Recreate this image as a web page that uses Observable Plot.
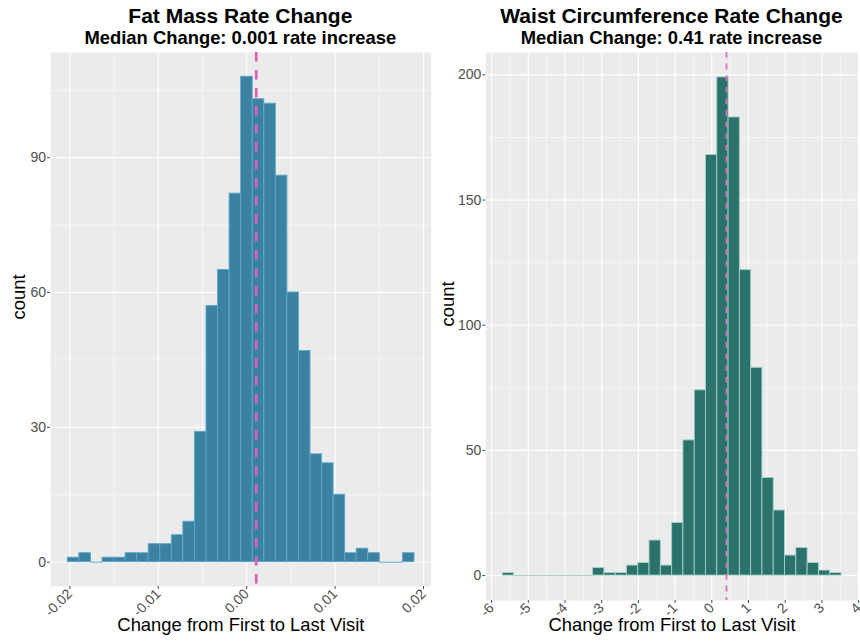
<!DOCTYPE html>
<html><head><meta charset="utf-8">
<script src="https://cdn.jsdelivr.net/npm/d3@7"></script>
<script src="https://cdn.jsdelivr.net/npm/@observablehq/plot@0.6"></script>
<style>
body{margin:0;background:#fff;font-family:"Liberation Sans",Arial,sans-serif;overflow:hidden;}
#wrap{display:flex;width:860px;height:643px;}
.col{position:relative;}
.head{position:relative;height:52px;}
.t{position:absolute;text-align:center;font-weight:bold;color:#000;white-space:nowrap;line-height:1;}
.t1{font-size:21px;top:5px;}
.t2{font-size:18.4px;top:29.4px;}
</style></head><body><div id="wrap"></div><script>
// ---- Fat mass data ----
const fatTitle = "Fat Mass Rate Change";
const fatSubtitle = "Median Change: 0.001 rate increase";
const fatBinStart = -0.02023;
const fatBinWidth = 0.001307;
const fatCounts = [1,2,0,1,1,2,2,4,4,6,9,29,57,65,82,108,103,102,86,60,47,24,22,15,2,3,2,0,0,2];
const fatMedian = 0.00108;
const fatTicksX = [-0.02,-0.01,0,0.01,0.02];
const fatTickLabelsX = ["-0.02","-0.01","0.00","0.01","0.02"];
const fatMinorX = [-0.015,-0.005,0.005,0.015];
const fatTicksY = [0,30,60,90];
const fatMinorY = [15,45,75,105];

// ---- Waist circumference data ----
const waistTitle = "Waist Circumference Rate Change";
const waistSubtitle = "Median Change: 0.41 rate increase";
const waistBinStart = -5.695;
const waistBinWidth = 0.3076;
const waistCounts = [1,0,0,0,0,0,0,0,3,1,1,4,5,14,4,21,54,74,168,199,183,122,83,39,26,8,11,5,2,1];
const waistMedian = 0.40;
const waistTicksX = [-6,-5,-4,-3,-2,-1,0,1,2,3,4];
const waistTickLabelsX = ["-6","-5","-4","-3","-2","-1","0","1","2","3","4"];
const waistMinorX = [-5.5,-4.5,-3.5,-2.5,-1.5,-0.5,0.5,1.5,2.5,3.5];
const waistTicksY = [0,50,100,150,200];
const waistMinorY = [25,75,125,175];

const xTitle = "Change from First to Last Visit";
const yTitle = "count";
const FONT = "'Liberation Sans', Arial, sans-serif";

function bins(start, w, counts) {
  return counts.map((c, i) => ({x1: start + i * w, x2: start + (i + 1) * w, count: c}));
}

function panel(o) {
  const data = bins(o.start, o.w, o.counts);
  return Plot.plot({
    width: o.width, height: 591,
    marginLeft: o.ml, marginRight: o.mr, marginTop: 0, marginBottom: o.mb,
    x: {domain: o.xd},
    y: {domain: o.yd},
    style: {fontFamily: FONT, fontSize: "14px", background: "transparent", overflow: "visible"},
    marks: [
      Plot.frame({fill: "#EBEBEB", stroke: "none"}),
      Plot.ruleX(o.minorX, {stroke: "white", strokeWidth: 0.55}),
      Plot.ruleY(o.minorY, {stroke: "white", strokeWidth: 0.55}),
      Plot.ruleX(o.ticksX, {stroke: "white", strokeWidth: 1.1}),
      Plot.ruleY(o.ticksY, {stroke: "white", strokeWidth: 1.1}),
      Plot.ruleY(data.filter(d => d.count === 0), {x1: "x1", x2: "x2", y: 0, stroke: o.stroke, strokeWidth: 1}),
      Plot.rectY(data.filter(d => d.count > 0), {x1: "x1", x2: "x2", y: "count", fill: o.fill, stroke: o.stroke, strokeWidth: 0.9}),
      Plot.ruleX([o.median], {stroke: o.mcol, strokeWidth: o.mw, strokeDasharray: o.dash}),
      Plot.axisX({ticks: o.ticksX, tickFormat: (d, i) => o.labelsX[i], tickRotate: -45, tickSize: 3, tickPadding: 2, fontSize: 14, color: "#4D4D4D", label: null}),
      Plot.axisY({ticks: o.ticksY, tickSize: 3, tickPadding: 1.5, fontSize: 14, color: "#4D4D4D", label: null}),
      Plot.text([yTitle], {text: d => d, frameAnchor: "left", rotate: -90, dx: o.ydx, fontSize: 18.4, fill: "black"}),
      Plot.text([xTitle], {text: d => d, frameAnchor: "bottom", dy: o.xdy, fontSize: 18.4, fill: "black"})
    ]
  });
}

function column(width, ml, mr, title, subtitle, plot) {
  const col = document.createElement("div");
  col.className = "col";
  col.style.width = width + "px";
  const head = document.createElement("div");
  head.className = "head";
  const pw = width - ml - mr;
  for (const [cls, txt] of [["t t1", title], ["t t2", subtitle]]) {
    const d = document.createElement("div");
    d.className = cls;
    d.style.left = ml + "px";
    d.style.width = pw + "px";
    d.textContent = txt;
    head.appendChild(d);
  }
  col.appendChild(head);
  col.appendChild(plot);
  return col;
}

const wrap = document.getElementById("wrap");
const leftPlot = panel({
  width: 440, ml: 50, mr: 9.3, mb: 57,
  xd: [-0.02219, 0.02087], yd: [-5.41, 113.4],
  start: fatBinStart, w: fatBinWidth, counts: fatCounts,
  minorX: fatMinorX, minorY: fatMinorY, ticksX: fatTicksX, ticksY: fatTicksY, labelsX: fatTickLabelsX,
  fill: "#3B82A0", stroke: "#5AA8CC", median: fatMedian, mcol: "#E05FB5", mw: 2.7, dash: "9.5,8.5",
  ydx: -31, xdy: 44
});
const rightPlot = panel({
  width: 420, ml: 45.3, mr: 2.3, mb: 43,
  xd: [-6.158, 3.989], yd: [-9.95, 208.95],
  start: waistBinStart, w: waistBinWidth, counts: waistCounts,
  minorX: waistMinorX, minorY: waistMinorY, ticksX: waistTicksX, ticksY: waistTicksY, labelsX: waistTickLabelsX,
  fill: "#2B716C", stroke: "#A2D2C6", median: waistMedian, mcol: "#DD70C0", mw: 1.8, dash: "5.8,5.8",
  ydx: -37.8, xdy: 30
});
wrap.appendChild(column(440, 50, 9.3, fatTitle, fatSubtitle, leftPlot));
wrap.appendChild(column(420, 45.3, 2.3, waistTitle, waistSubtitle, rightPlot));
</script></body></html>
